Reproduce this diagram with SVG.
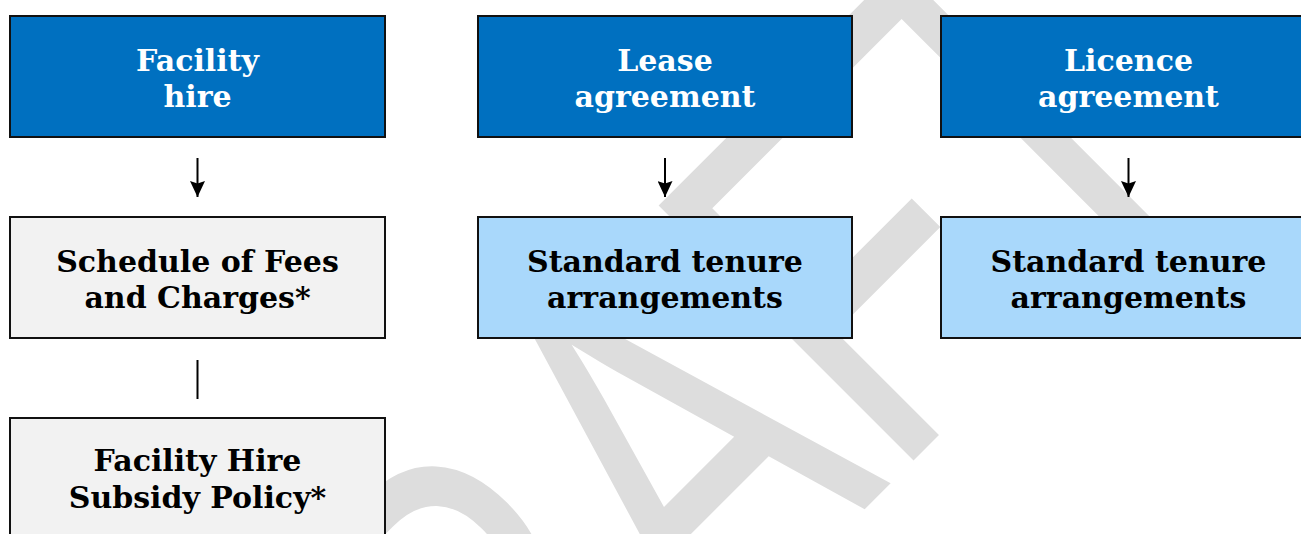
<svg xmlns="http://www.w3.org/2000/svg" width="1301" height="534" viewBox="0 0 1301 534">
  <style>
    .box { stroke: #111; stroke-width: 2; }
    .dark { fill: #0070c0; }
    .grey { fill: #f2f2f2; }
    .light { fill: #a9d8fb; }
    .lbl { font-family: "DejaVu Serif", "Liberation Serif", serif; font-weight: bold; font-size: 30px; text-anchor: middle; }
    .w { fill: #ffffff; }
    .k { fill: #000000; }
    .wm { font-family: "Liberation Sans", Arial, sans-serif; font-size: 524px; fill: #dddddd; font-kerning: none; }
    .conn { stroke: #000; stroke-width: 2; fill: none; }
  </style>
  <defs>
    <marker id="arrow" viewBox="0 0 16 15" refX="16" refY="7.5" markerWidth="16" markerHeight="15" markerUnits="userSpaceOnUse" orient="auto">
      <path d="M0,0 L16,7.5 L0,15 L2.5,7.5 z" fill="#000"/>
    </marker>
  </defs>

  <rect width="1301" height="534" fill="#ffffff"/>

  <!-- watermark -->
  <g id="watermark">
    <text class="wm" transform="translate(315.4,1058.6) rotate(-45) scale(0.736,1)">DRAFT</text>
  </g>

  <!-- connectors -->
  <g id="connectors">
    <line class="conn" x1="197.5" y1="158" x2="197.5" y2="197" marker-end="url(#arrow)"/>
    <line class="conn" x1="665" y1="158" x2="665" y2="197" marker-end="url(#arrow)"/>
    <line class="conn" x1="1128.5" y1="158" x2="1128.5" y2="197" marker-end="url(#arrow)"/>
    <line class="conn" x1="197.5" y1="360" x2="197.5" y2="399"/>
  </g>

  <!-- top row -->
  <g id="facility-hire">
    <rect class="box dark" x="10" y="16" width="375" height="121"/>
    <text class="lbl w" x="197.5" y="70.5">Facility</text>
    <text class="lbl w" x="197.5" y="107.3">hire</text>
  </g>
  <g id="lease-agreement">
    <rect class="box dark" x="478" y="16" width="374" height="121"/>
    <text class="lbl w" x="665" y="70.5">Lease</text>
    <text class="lbl w" x="665" y="107.3">agreement</text>
  </g>
  <g id="licence-agreement">
    <rect class="box dark" x="941" y="16" width="375" height="121"/>
    <text class="lbl w" x="1128.5" y="70.5">Licence</text>
    <text class="lbl w" x="1128.5" y="107.3">agreement</text>
  </g>

  <!-- second row -->
  <g id="schedule-of-fees">
    <rect class="box grey" x="10" y="217" width="375" height="121"/>
    <text class="lbl k" x="197.5" y="271.5">Schedule of Fees</text>
    <text class="lbl k" x="197.5" y="308.3">and Charges*</text>
  </g>
  <g id="lease-tenure">
    <rect class="box light" x="478" y="217" width="374" height="121"/>
    <text class="lbl k" x="665" y="271.5">Standard tenure</text>
    <text class="lbl k" x="665" y="308.3">arrangements</text>
  </g>
  <g id="licence-tenure">
    <rect class="box light" x="941" y="217" width="375" height="121"/>
    <text class="lbl k" x="1128.5" y="271.5">Standard tenure</text>
    <text class="lbl k" x="1128.5" y="308.3">arrangements</text>
  </g>

  <!-- third row -->
  <g id="subsidy-policy">
    <rect class="box grey" x="10" y="418" width="375" height="121"/>
    <text class="lbl k" x="197.5" y="471">Facility Hire</text>
    <text class="lbl k" x="197.5" y="508">Subsidy Policy*</text>
  </g>
</svg>
